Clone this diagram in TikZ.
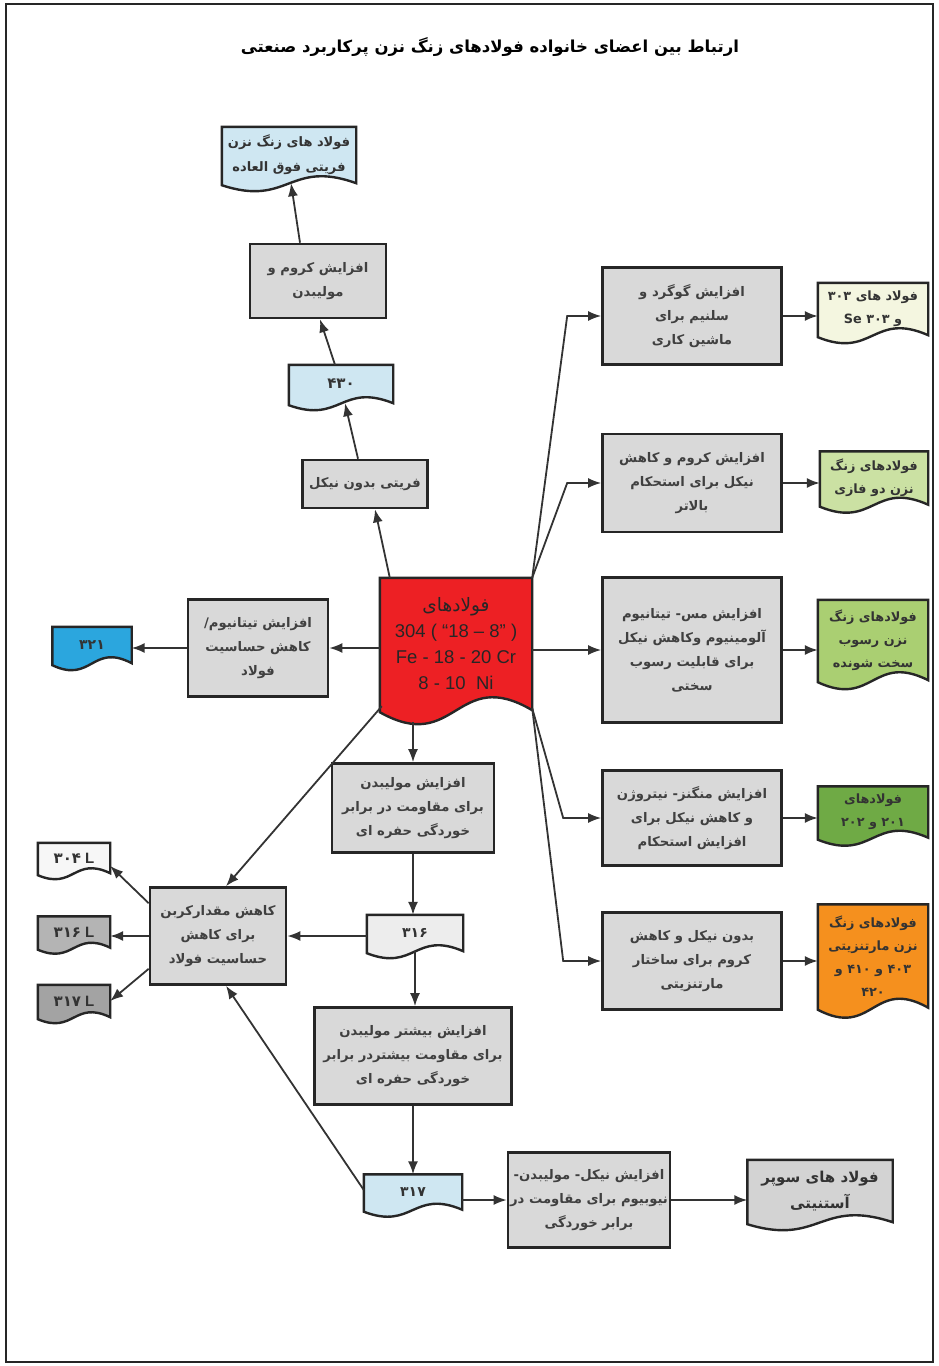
\documentclass[tikz,border=0pt]{standalone}
\usepackage{fontspec}
\setmainfont{Liberation Sans}
\newfontfamily\arabicfont[Script=Arabic]{DejaVu Sans}
\TeXXeTstate=1
\usepackage{xcolor}
\usetikzlibrary{arrows.meta,calc,backgrounds}

\definecolor{boxgray}{HTML}{D9D9D9}
\definecolor{lightblue}{HTML}{CFE7F2}
\definecolor{cyanblue}{HTML}{2BA6DE}
\definecolor{paper}{HTML}{EDEDED}
\definecolor{paperwhite}{HTML}{F7F7F7}
\definecolor{grayL}{HTML}{B4B4B4}
\definecolor{grayLL}{HTML}{A3A3A3}
\definecolor{supergray}{HTML}{D3D3D3}
\definecolor{paleyellow}{HTML}{F4F6E0}
\definecolor{palegreen}{HTML}{CBE1A3}
\definecolor{midgreen}{HTML}{AACF72}
\definecolor{darkgreen}{HTML}{6FAA45}
\definecolor{martorange}{HTML}{F5901E}
\definecolor{steelred}{HTML}{ED2024}

\newcommand{\fa}[1]{{\arabicfont\beginR #1\endR}}
\newcommand{\docpath}[3]{%
  \draw[docline, fill=#2] (#1.north west) -- (#1.north east) -- (#1.south east)
    .. controls ($(#1.south)+(0,-3.46*#3)$) and ($(#1.south)+(0,3.46*#3)$) .. ($(#1.south west)+(0,2)$) -- cycle;}

\tikzset{
  stepbox/.style={draw=black!85, line width=2.6pt, fill=boxgray, align=center, inner sep=0pt,
    text=black!75, font=\fontsize{13.2}{24}\selectfont\bfseries},
  doc/.style={align=center, inner sep=0pt, text=black!80, font=\fontsize{12.8}{23}\selectfont\bfseries},
  wh/.style 2 args={minimum width=#1pt, minimum height=#2pt},
  link/.style={draw=black!80, line width=1.8pt, -{Latex[length=13pt,width=10pt]}},
  docline/.style={draw=black!85, line width=2.4pt},
}

\begin{document}
\begin{tikzpicture}[x=1pt, y=-1pt]
    \useasboundingbox (0,0) rectangle (938,1366);
    \draw[line width=2.5pt, draw=black!85] (6,4) rectangle (933,1362);
    \node[font=\fontsize{16.5}{24}\selectfont\bfseries] (title) at (490,47) {\fa{ارتباط بین اعضای خانواده فولادهای زنگ نزن پرکاربرد صنعتی}};

    % central 304 family and the ferritic branch
    \node[doc, wh={152}{132}, font=\fontsize{18.5}{26}\selectfont, text=black!85] (s304) at (456,644) {\fa{فولادهای}\\304 ( “18 – 8” )\\Fe - 18 - 20 Cr\\8 - 10~~Ni};
    \node[stepbox, wh={125}{48}] (bNoNi) at (365,484) {\fa{فریتی بدون نیکل}};
    \node[doc, wh={104}{38}, font=\fontsize{15}{20}\selectfont\bfseries] (d430) at (341,384) {\fa{۴۳۰}};
    \node[stepbox, wh={136}{74}] (bCrMo) at (318,281) {\fa{افزایش کروم و}\\\fa{مولیبدن}};
    \node[doc, wh={134}{56}, font=\fontsize{13}{25}\selectfont\bfseries] (sferr) at (289,155) {\fa{فولاد های زنگ نزن}\\\fa{فریتی فوق العاده}};

    % left branch
    \node[stepbox, wh={140}{97}] (bTi) at (258,648) {\fa{افزایش تیتانیوم/}\\\fa{کاهش حساسیت}\\\fa{فولاد}};
    \node[doc, wh={79}{36}, font=\fontsize{14}{20}\selectfont\bfseries] (d321) at (92,645) {\fa{۳۲۱}};

    % molybdenum line
    \node[stepbox, wh={162}{89}] (bMo) at (413,808) {\fa{افزایش مولیبدن}\\\fa{برای مقاومت در برابر}\\\fa{خوردگی حفره ای}};
    \node[doc, wh={96}{36}, font=\fontsize{14}{20}\selectfont\bfseries] (d316) at (415,933) {\fa{۳۱۶}};
    \node[stepbox, wh={136}{97}] (bC) at (218,936) {\fa{کاهش مقدارکربن}\\\fa{برای کاهش}\\\fa{حساسیت فولاد}};
    \node[doc, wh={72}{30}, font=\fontsize{15}{20}\selectfont\bfseries] (d304L) at (74,858) {{\arabicfont ۳۰۴} L};
    \node[doc, wh={72}{31}, font=\fontsize{15}{20}\selectfont\bfseries] (d316L) at (74,932) {{\arabicfont ۳۱۶} L};
    \node[doc, wh={72}{32}, font=\fontsize{15}{20}\selectfont\bfseries] (d317L) at (74,1001) {{\arabicfont ۳۱۷} L};
    \node[stepbox, wh={197}{97}] (bMoMore) at (413,1056) {\fa{افزایش بیشتر مولیبدن}\\\fa{برای مقاومت بیشتردر برابر}\\\fa{خوردگی حفره ای}};
    \node[doc, wh={98}{35}, font=\fontsize{14}{20}\selectfont\bfseries] (d317) at (413,1192) {\fa{۳۱۷}};
    \node[stepbox, wh={162}{95}] (bNiMoNb) at (589,1200) {\fa{افزایش نیکل- مولیبدن-}\\\fa{نیوبیوم برای مقاومت در}\\\fa{برابر خوردگی}};
    \node[doc, wh={145}{62}, font=\fontsize{15}{26}\selectfont\bfseries] (dsuper) at (820,1191) {\fa{فولاد های سوپر}\\\fa{آستنیتی}};

    % right column
    \node[stepbox, wh={179}{97}] (bS) at (692,316) {\fa{افزایش گوگرد و}\\\fa{سلنیم برای}\\\fa{ماشین کاری}};
    \node[stepbox, wh={179}{98}] (bCr) at (692,483) {\fa{افزایش کروم و کاهش}\\\fa{نیکل برای استحکام}\\\fa{بالاتر}};
    \node[stepbox, wh={179}{145}] (bCu) at (692,650) {\fa{افزایش مس- تیتانیوم}\\\fa{آلومینیوم وکاهش نیکل}\\\fa{برای قابلیت رسوب}\\\fa{سختی}};
    \node[stepbox, wh={179}{95}] (bMn) at (692,818) {\fa{افزایش منگنز- نیتروژن}\\\fa{و کاهش نیکل برای}\\\fa{افزایش استحکام}};
    \node[stepbox, wh={179}{97}] (bMart) at (692,961) {\fa{بدون نیکل و کاهش}\\\fa{کروم برای ساختار}\\\fa{مارتنزیتی}};
    \node[doc, wh={110}{52}] (d303) at (873,309) {\fa{فولاد های ۳۰۳}\\\fa{و ۳۰۳ Se}};
    \node[doc, wh={108}{53}] (dduplex) at (874,478) {\fa{فولادهای زنگ}\\\fa{نزن دو فازی}};
    \node[doc, wh={110}{80}] (dph) at (873,640) {\fa{فولادهای زنگ}\\\fa{نزن رسوب}\\\fa{سخت شونده}};
    \node[doc, wh={110}{51}] (d201) at (873,812) {\fa{فولادهای}\\\fa{۲۰۱ و ۲۰۲}};
    \node[doc, wh={110}{103}] (dmart) at (873,956) {\fa{فولادهای زنگ}\\\fa{نزن مارتنزیتی}\\\fa{۴۰۳ و ۴۱۰ و}\\\fa{۴۲۰}};

    \begin{scope}[on background layer]
        \foreach \n/\c/\a in {sferr/lightblue/7, d430/lightblue/6, s304/steelred/13, d321/cyanblue/6,
            d316/paper/6, d304L/paperwhite/5, d316L/grayL/5, d317L/grayLL/5, d317/lightblue/6,
            dsuper/supergray/7, d303/paleyellow/7, dduplex/palegreen/7, dph/midgreen/8,
            d201/darkgreen/7, dmart/martorange/9}
            \docpath{\n}{\c}{\a};
    \end{scope}

    % connectors
    \draw[link] ($(s304.north west)+(10,0)$) -- ($(bNoNi.south)+(10,0)$);
    \draw[link] ($(bNoNi.north)+(-7,0)$) -- ($(d430.south)+(4,0)$);
    \draw[link] ($(d430.north)+(-6,0)$) -- ($(bCrMo.south)+(2,0)$);
    \draw[link] ($(bCrMo.north)+(-18,0)$) -- ($(sferr.south)+(2,0)$);
    \draw[link] (s304.west |- bTi.east) -- (bTi.east);
    \draw[link] (bTi.west) -- (bTi.west -| d321.east);
    \draw[link] ($(bMo.north |- s304.south)+(0,12)$) -- (bMo.north);
    \draw[link] (bMo.south) -- (bMo.south |- d316.north);
    \draw[link] (d316.west |- bC.east) -- (bC.east);
    \draw[link] (d316.south) -- (d316.south |- bMoMore.north);
    \draw[link] (bMoMore.south) -- (bMoMore.south |- d317.north);
    \draw[link] (d317.east |- bNiMoNb.west) -- (bNiMoNb.west);
    \draw[link] (bNiMoNb.east) -- (bNiMoNb.east -| dsuper.west);
    \draw[link] ($(s304.south west)+(2,-4)$) -- ($(bC.north)+(8,0)$);
    \draw[link] ($(d317.west)+(0,-2)$) -- ($(bC.south)+(8,0)$);
    \draw[link] ($(bC.north west)+(0,17)$) -- ($(d304L.east)+(0,8)$);
    \draw[link] (bC.west) -- (bC.west -| d316L.east);
    \draw[link] ($(bC.south west)+(0,-17)$) -- (d317L.east);
    \draw[link] (s304.north east) -- ($(bS.west)+(-34,0)$) -- (bS.west);
    \draw[link] (s304.north east) -- ($(bCr.west)+(-34,0)$) -- (bCr.west);
    \draw[link] (s304.east |- bCu.west) -- (bCu.west);
    \draw[link] ($(s304.south east)+(0,-2)$) -- ($(bMn.west)+(-38,0)$) -- (bMn.west);
    \draw[link] ($(s304.south east)+(0,-2)$) -- ($(bMart.west)+(-38,0)$) -- (bMart.west);
    \draw[link] (bS.east) -- (bS.east -| d303.west);
    \draw[link] (bCr.east) -- (bCr.east -| dduplex.west);
    \draw[link] (bCu.east) -- (bCu.east -| dph.west);
    \draw[link] (bMn.east) -- (bMn.east -| d201.west);
    \draw[link] (bMart.east) -- (bMart.east -| dmart.west);
\end{tikzpicture}
\end{document}
